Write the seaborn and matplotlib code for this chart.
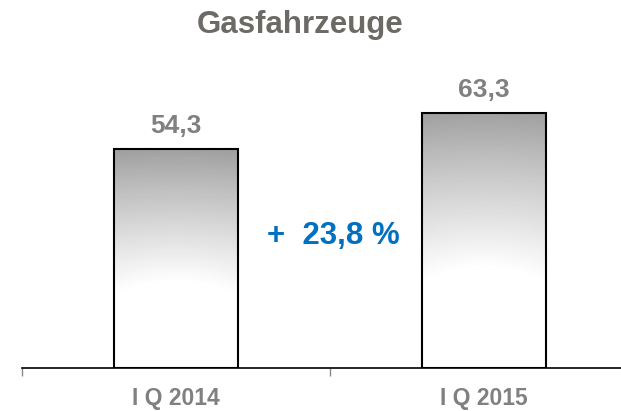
import numpy as np
import pandas as pd
import matplotlib
matplotlib.use("Agg")
import matplotlib.pyplot as plt
import seaborn as sns

quarters = ["I Q 2014", "I Q 2015"]
vehicles = [54.3, 63.3]
change_label = "+  23,8 %"
title = "Gasfahrzeuge"

sns.set_style("white")
plt.rcParams["font.family"] = ["Liberation Sans", "DejaVu Sans"]

df = pd.DataFrame({"quarter": quarters, "value": vehicles})

fig = plt.figure(figsize=(6.21, 4.11), dpi=100)
ax = fig.add_axes([22 / 621, 43 / 411, 616 / 621, 368 / 411])

sns.barplot(data=df, x="quarter", y="value", width=0.4, ax=ax,
            facecolor="none", edgecolor="black", linewidth=1.5)
ax.set_xlim(-0.5, 1.5)
ax.set_ylim(0, 368 / 4.03)

# gradient fill: gray at the top fading to white, soft glow near the bottom
ny, nx = 200, 100
yy, xx = np.mgrid[0:1:ny * 1j, -1:1:nx * 1j]   # yy: 0 bottom, 1 top
shade = 1 - np.clip((yy - 0.2) / 0.8, 0, 1) ** 1.5
glow = np.exp(-((xx / 1.3) ** 2 + (yy / 0.38) ** 2))
edge = 0.02 * xx ** 2
val = np.clip(shade + 0.35 * glow - edge, 0, 1)
lo, hi = 0.63, 1.0
img = lo + (hi - lo) * val
for p in ax.patches:
    x0, w, h = p.get_x(), p.get_width(), p.get_height()
    im = ax.imshow(img, cmap="gray", vmin=0, vmax=1, origin="lower",
                   extent=[x0, x0 + w, 0, h], aspect="auto", zorder=1,
                   interpolation="bilinear")
    im.set_clip_path(p)
    p.set_zorder(2)

ax.bar_label(ax.containers[0], fmt=lambda v: f"{v:.1f}".replace(".", ","),
             padding=8, fontsize=19, fontweight="bold", color="#808080")

ax.text(0.51, 30.8, change_label, ha="center", va="baseline", fontsize=22.5,
        fontweight="bold", color="#0070c0")

for s in ["top", "right", "left"]:
    ax.spines[s].set_visible(False)
ax.spines["bottom"].set_color("black")
ax.spines["bottom"].set_linewidth(1.2)
ax.set_yticks([])
ax.set_xlabel("")
ax.set_ylabel("")
ax.set_xticks([-0.5, 0.5, 1.5], minor=True)
ax.tick_params(axis="x", which="minor", length=6, width=1, color="#888888",
               direction="out", bottom=True)
ax.tick_params(axis="x", which="major", length=0, pad=14, labelsize=16.5,
               labelcolor="#808080")
for t in ax.get_xticklabels():
    t.set_fontweight("bold")

fig.text(300 / 621, (411 - 33) / 411, title, ha="center", va="baseline",
         fontsize=22.5, fontweight="bold", color="#6d6a66")

fig.savefig("out.png", dpi=100)
